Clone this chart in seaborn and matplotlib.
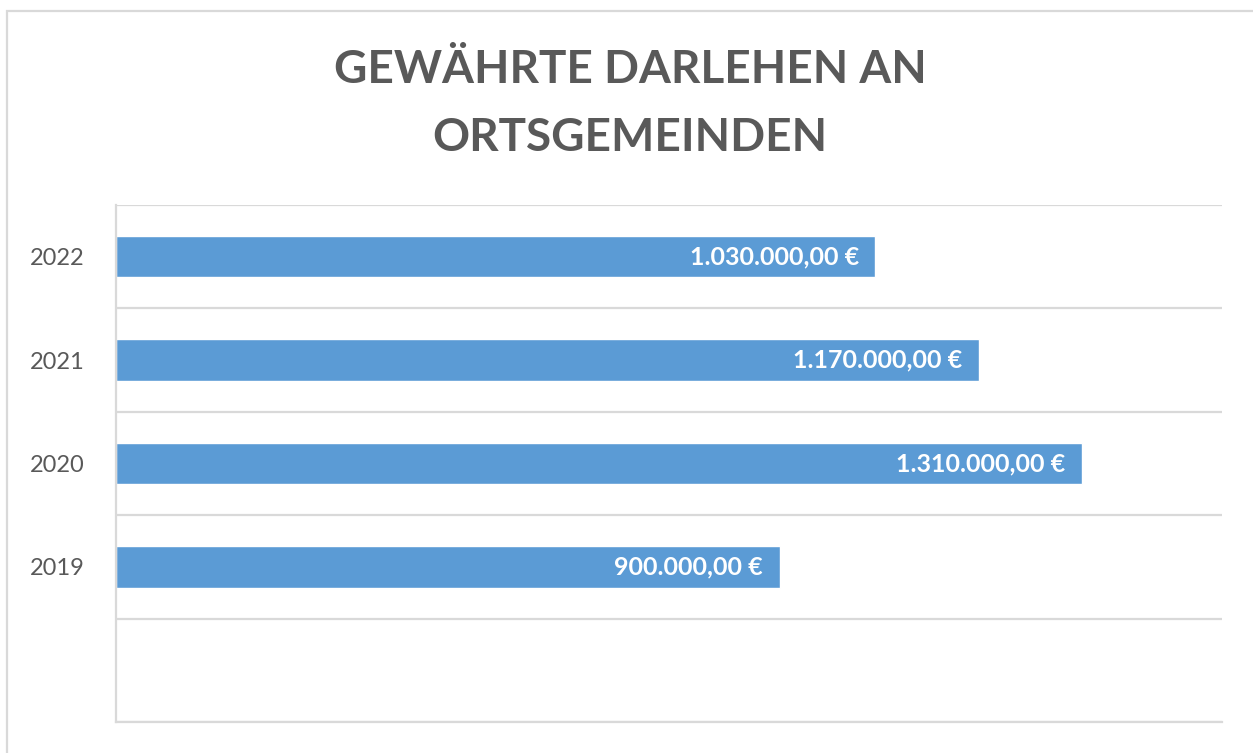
import numpy as np
import matplotlib.pyplot as plt
import matplotlib.patches as mpatches
import pandas as pd
import seaborn as sns

# Gewährte Darlehen an Ortsgemeinden
years = ['2022', '2021', '2020', '2019']
amounts = [1030000, 1170000, 1310000, 900000]
title = 'GEWÄHRTE DARLEHEN AN\nORTSGEMEINDEN'

df = pd.DataFrame({'Jahr': years, 'Betrag': amounts})
order = years + [' ']  # empty slot at the bottom like in the original

sns.set_theme(style='white')
plt.rcParams['font.family'] = ['Lato', 'DejaVu Sans']

fig = plt.figure(figsize=(12.53, 7.53), dpi=100)
ax = fig.add_axes([116 / 1253, 31 / 753, (1222 - 116) / 1253, (722 - 205) / 753])

sns.barplot(data=df, x='Betrag', y='Jahr', order=order, orient='h',
            color='#5b9bd5', saturation=1, width=0.4, ax=ax)

def euro(v):
    s = f'{v:,.2f}'.replace(',', '#').replace('.', ',').replace('#', '.')
    return s + ' €'

labels = ax.bar_label(ax.containers[0], labels=[euro(v) for v in amounts],
                      padding=-12, color='white', fontsize=18, fontweight='bold')
for t in labels:
    t.set_ha('right')

ax.set_xlim(0, 1500000)
ax.set_ylim(4.5, -0.5)
ax.set_xticks([])
ax.set_xlabel('')
ax.set_ylabel('')
ax.tick_params(axis='y', length=0, pad=42, labelsize=17, labelcolor='#595959')
for t in ax.get_yticklabels():
    t.set_ha('center')

ax.set_yticks(np.arange(-0.5, 5, 1), minor=True)
ax.grid(which='minor', axis='y', color='#d9d9d9', linewidth=1.6)
ax.grid(which='major', visible=False)
for side in ['top', 'right']:
    ax.spines[side].set_visible(False)
ax.spines['left'].set_color('#d9d9d9')
ax.spines['left'].set_linewidth(1.6)
ax.spines['bottom'].set_color('#d9d9d9')
ax.spines['bottom'].set_linewidth(1.6)

fig.text(0.503, 1 - 104 / 753, title, ha='center', va='center', fontsize=33,
         fontweight='bold', color='#595959', linespacing=1.74)

# chart frame (cropped at right and bottom)
fig.patches.append(mpatches.Rectangle((7 / 1253, -0.05), 1.2, 1 - 11 / 753 + 0.05,
                                      transform=fig.transFigure, fill=False,
                                      edgecolor='#d9d9d9', linewidth=1.6))

fig.savefig('out.png', dpi=100)
